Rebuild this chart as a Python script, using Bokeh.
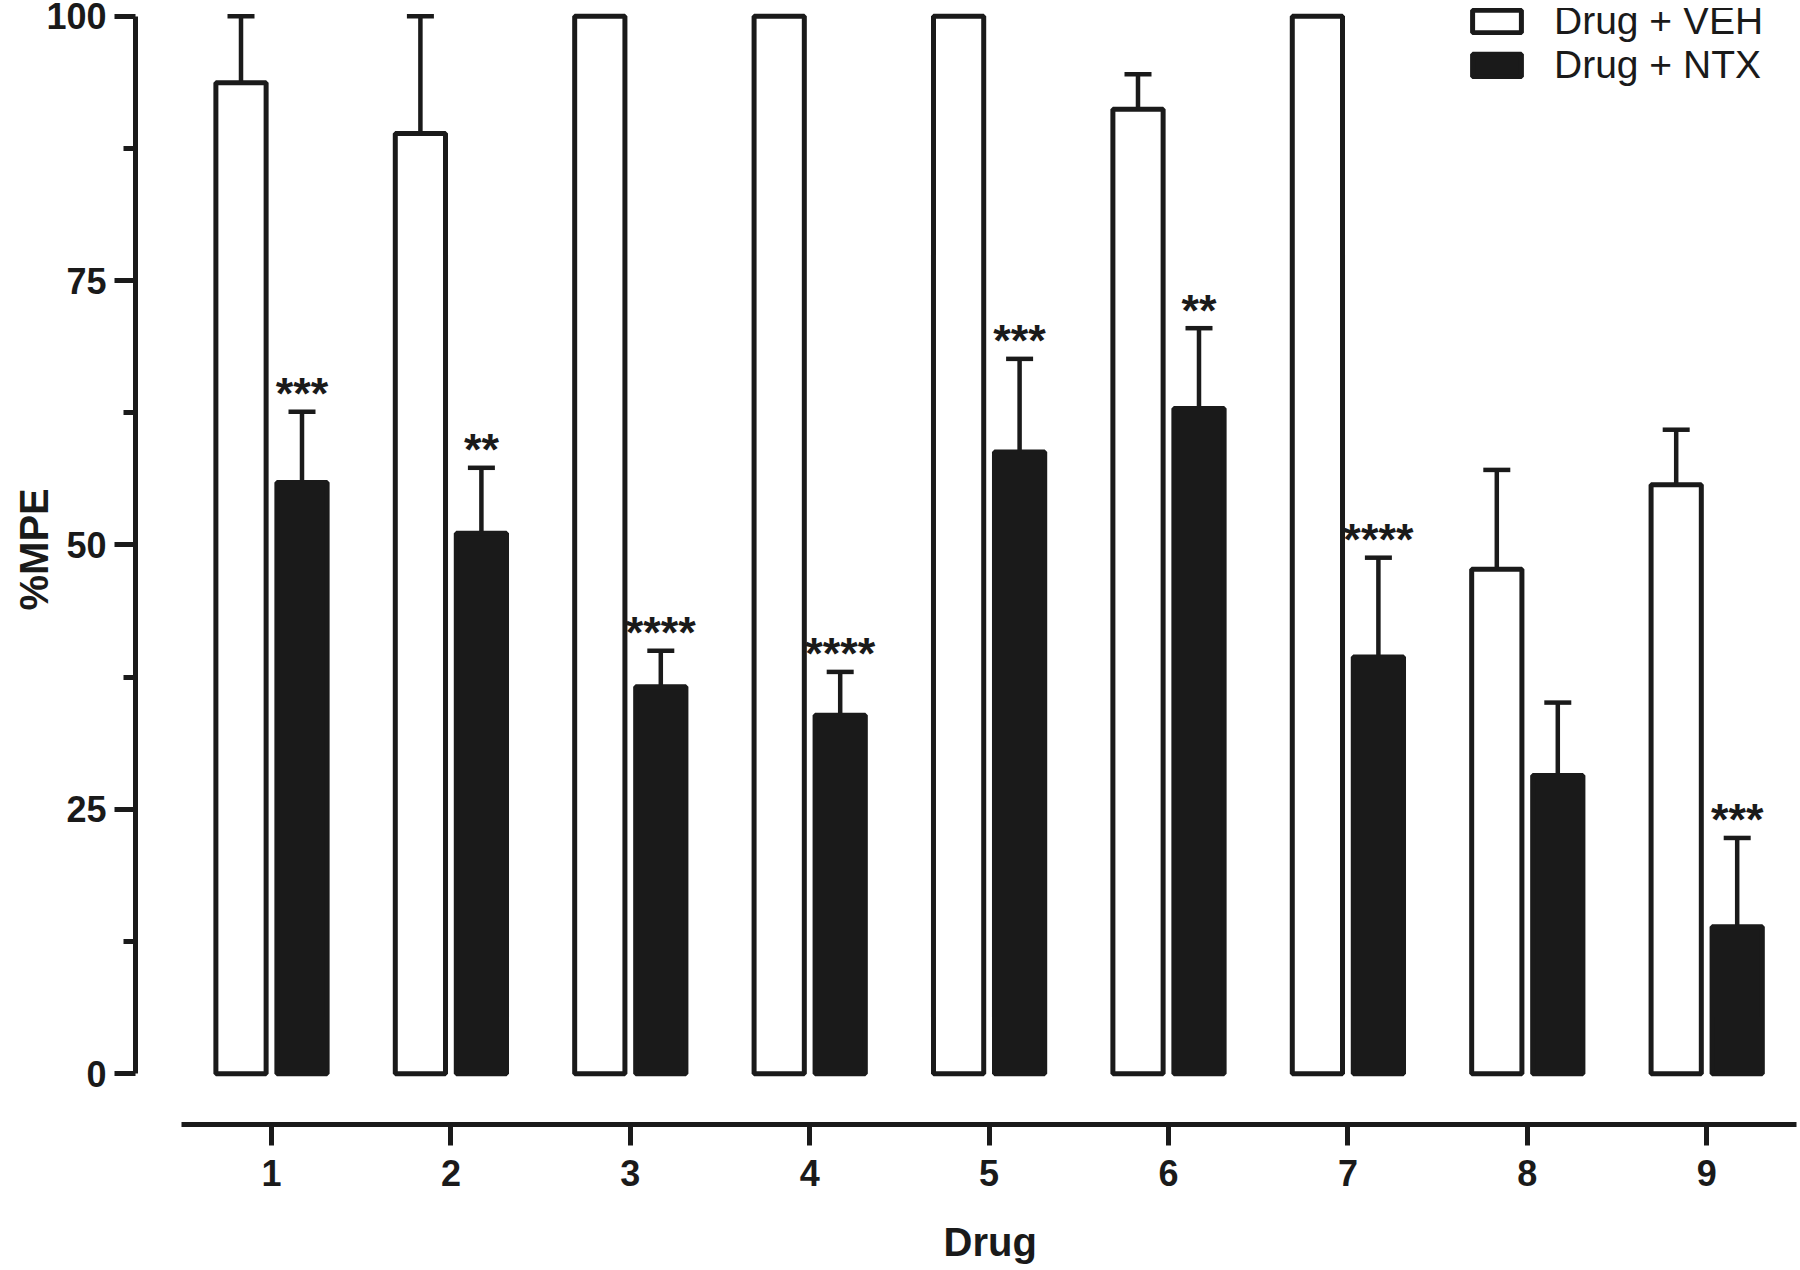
from bokeh.plotting import figure
from bokeh.models import (Range1d, FixedTicker, Whisker, TeeHead, ColumnDataSource,
                          Legend, LegendItem, Title)
from bokeh.core.properties import value
from bokeh.embed import file_html
from bokeh.resources import INLINE

# ---- data ----
drugs = [1, 2, 3, 4, 5, 6, 7, 8, 9]
tick_labels = ["1", "2", "3", "4", "5", "6", "7", "8", "9"]
veh_mean = [93.7, 88.9, 100.0, 100.0, 100.0, 91.2, 100.0, 47.7, 55.7]
veh_sem = [6.3, 11.1, 0.0, 0.0, 0.0, 3.3, 0.0, 9.4, 5.2]
ntx_mean = [55.9, 51.1, 36.6, 33.9, 58.8, 62.9, 39.4, 28.2, 13.9]
ntx_sem = [6.7, 6.2, 3.4, 4.1, 8.8, 7.6, 9.4, 6.9, 8.4]
significance = ["***", "**", "****", "****", "***", "**", "****", "", "***"]
series_labels = ["Drug + VEH", "Drug + NTX"]
x_title = "Drug"
y_title = "%MPE"

INK = "#1a1a1a"
FONT = "Liberation Sans"
OFF = 0.17
BAR_W = 0.28

veh_x = [d - OFF for d in drugs]
ntx_x = [d + OFF for d in drugs]
veh_up = [m + s for m, s in zip(veh_mean, veh_sem)]
ntx_up = [m + s for m, s in zip(ntx_mean, ntx_sem)]

src_veh = ColumnDataSource(dict(x=veh_x, top=veh_mean))
src_ntx = ColumnDataSource(dict(x=ntx_x, top=ntx_mean))

err_rows = [(x, m, u) for x, m, u, s in zip(veh_x, veh_mean, veh_up, veh_sem) if s > 0] + \
           [(x, m, u) for x, m, u, s in zip(ntx_x, ntx_mean, ntx_up, ntx_sem) if s > 0]
src_err = ColumnDataSource(dict(base=[r[0] for r in err_rows],
                                lower=[r[1] for r in err_rows],
                                upper=[r[2] for r in err_rows]))
src_sig = ColumnDataSource(dict(x=ntx_x, y=ntx_up, t=significance))

p = figure(width=1798, height=1268, output_backend="svg", toolbar_location=None,
           x_range=Range1d(0.2419, 9.5006), y_range=Range1d(-4.794, 100.728),
           min_border_left=135, min_border_right=2, min_border_top=8, min_border_bottom=144)
p.outline_line_color = None
p.xgrid.visible = False
p.ygrid.visible = False
p.background_fill_color = "white"
p.border_fill_color = "white"

r_veh = p.vbar(x="x", top="top", bottom=0, width=BAR_W, source=src_veh,
               fill_color="white", line_color=INK, line_width=5)
r_ntx = p.vbar(x="x", top="top", bottom=0, width=BAR_W, source=src_ntx,
               fill_color=INK, line_color=INK, line_width=5)

whisk = Whisker(base="base", lower="lower", upper="upper", source=src_err,
                line_color=INK, line_width=4.5, lower_head=None,
                upper_head=TeeHead(size=27, line_color=INK, line_width=4.5))
p.add_layout(whisk)

p.text(x="x", y="y", text="t", source=src_sig, text_align="center",
       text_baseline="alphabetic", text_font=value(FONT), text_font_style="bold",
       text_font_size="45px", text_color=INK, y_offset=-18)

# axes
for ax in (p.xaxis[0], p.yaxis[0]):
    ax.axis_line_color = INK
    ax.axis_line_width = 5
    ax.major_tick_line_color = INK
    ax.major_tick_line_width = 5
    ax.major_tick_in = 0
    ax.major_tick_out = 21
    ax.major_label_text_font = FONT
    ax.major_label_text_font_style = "bold"
    ax.major_label_text_font_size = "36px"
    ax.major_label_text_color = INK
    ax.major_label_standoff = 8

p.yaxis[0].bounds = (0, 100)
p.yaxis[0].ticker = FixedTicker(ticks=[0, 25, 50, 75, 100], minor_ticks=[12.5, 37.5, 62.5, 87.5])
p.yaxis[0].minor_tick_line_color = INK
p.yaxis[0].minor_tick_line_width = 5
p.yaxis[0].minor_tick_in = 0
p.yaxis[0].minor_tick_out = 12

p.xaxis[0].bounds = (0.5, 9.5)
p.xaxis[0].ticker = FixedTicker(ticks=drugs)
p.xaxis[0].major_label_overrides = {d: t for d, t in zip(drugs, tick_labels)}
p.xaxis[0].minor_tick_line_color = None
p.xaxis[0].major_label_standoff = 14

# axis titles, centred on the axis lines (not on the frame)
p.add_layout(Title(text=y_title, align="left", offset=514, standoff=-25,
                   text_font=FONT, text_font_style="bold", text_font_size="40px",
                   text_color=INK), "left")
# a leading empty line pushes the title further from the axis within the border
p.add_layout(Title(text="\n" + x_title, align="left", offset=808, standoff=9,
                   text_line_height=0.56,
                   text_font=FONT, text_font_style="bold", text_font_size="40px",
                   text_color=INK), "below")

legend = Legend(items=[LegendItem(label=series_labels[0], renderers=[r_veh]),
                       LegendItem(label=series_labels[1], renderers=[r_ntx])],
                location=(1331, 1037), orientation="vertical",
                glyph_width=61, glyph_height=28, label_standoff=27, spacing=0,
                padding=0, margin=0, border_line_color=None, background_fill_alpha=0,
                label_text_font=FONT, label_text_font_size="39px", label_text_color=INK)
p.add_layout(legend)

open("out.html", "w").write(file_html(p, INLINE))
